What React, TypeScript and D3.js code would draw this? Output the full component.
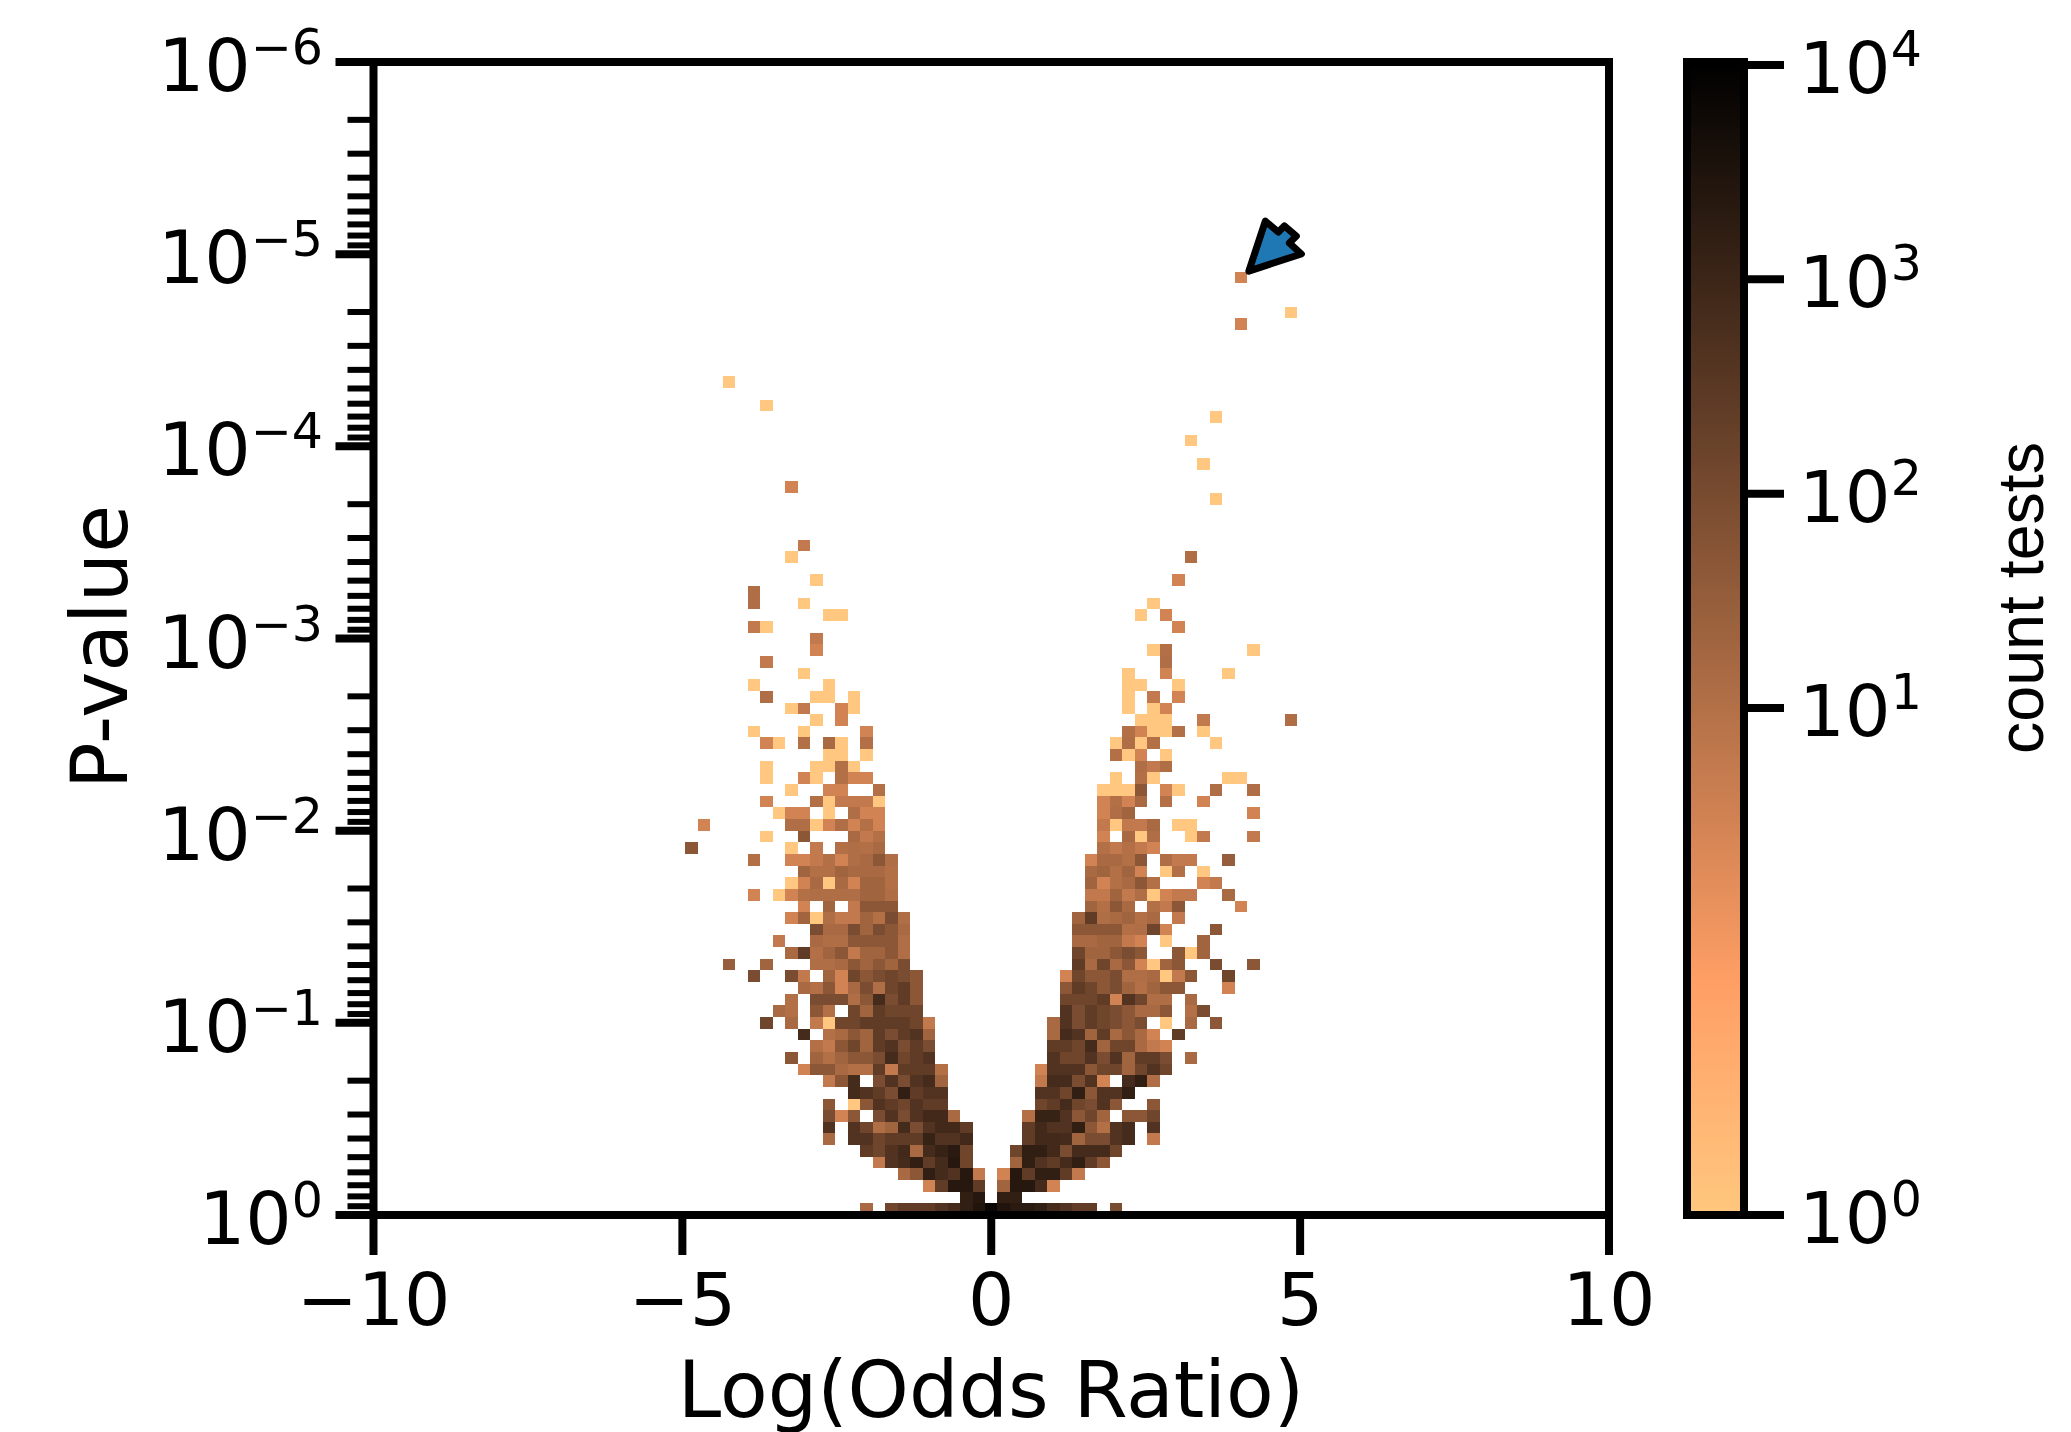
import React from "react";
import * as d3 from "d3";

const xTicks = [-10, -5, 0, 5, 10];
const xTickLabels = ["\u221210", "\u22125", "0", "5", "10"];
const pExponents = [0, -1, -2, -3, -4, -5, -6];
const pExponentLabels = ["0", "\u22121", "\u22122", "\u22123", "\u22124", "\u22125", "\u22126"];
const minorMultipliers = [2, 3, 4, 5, 6, 7, 8, 9];
const colorbarExponents = [0, 1, 2, 3, 4];
const binCount = 99;

// Each entry: [P-value bin from the bottom, first odds-ratio bin, counts...]; 0 means an empty bin.
const leftArmCounts: number[][] = [
  [0,39,15,0,140,250,250,250,430,700,1500,3000,7000],
  [1,47,1500,2400],
  [2,44,8,250,2400,2400,250],
  [3,42,15,46,1500,700,430,2400,9],
  [4,40,9,430,700,1500,250,700,2400,140],
  [5,39,250,140,430,800,15,700,1200,2000,140],
  [6,36,15,0,430,430,140,250,250,250,1200,430,430,800],
  [7,36,430,0,430,140,11,21,700,90,430,800,800,250],
  [8,36,90,8,46,0,90,430,90,430,800,800,15],
  [9,36,46,0,1,46,430,250,140,430,250,250],
  [10,38,700,430,250,90,1500,250,430,430],
  [11,36,9,46,700,0,90,430,90,430,700,21],
  [12,34,8,46,46,15,10,10,250,9,250,250,250,10],
  [13,33,46,0,21,10,21,46,46,90,700,140,250,430],
  [14,35,10,9,46,140,21,250,430,90,250,90],
  [15,34,700,0,10,15,46,21,250,90,250,430,21],
  [16,31,140,0,15,0,9,1,140,140,250,250,250,250,140,9],
  [17,32,15,10,0,46,10,0,140,21,250,140,140,140],
  [18,33,10,0,90,90,90,11,46,700,90,250,46],
  [19,34,15,10,46,8,15,90,11,140,250,46],
  [20,30,90,0,0,90,9,0,21,8,140,46,90,140,90,46],
  [21,28,30,0,0,21,0,0,0,11,11,15,46,21,46,21,90],
  [22,33,15,250,10,21,46,9,21,21,46,11],
  [23,32,9,0,0,15,11,11,46,46,46,46,11],
  [24,35,90,15,15,90,21,90,46,15],
  [25,33,8,21,1,11,9,9,21,10,90,11],
  [26,34,8,0,21,0,9,46,46,46],
  [27,30,8,0,1,8,10,11,11,11,11,21,21,11],
  [28,33,1,8,15,1,15,8,21,21,10],
  [29,34,21,10,10,21,15,15,15,10],
  [30,30,10,0,0,8,8,9,10,8,11,15,46,11],
  [31,25,46],
  [31,33,1,0,9,0,10,11,10,15],
  [32,31,1,0,0,46,0,0,0,15,9,10],
  [33,26,8],
  [33,33,11,11,1,8,11,8,10,8],
  [34,32,1,8,8,0,1,0,11,8,8],
  [35,31,8,0,0,0,10,1,9,9,9,1],
  [36,33,1,0,0,8,8,0,0,10],
  [37,31,1,0,0,8,1,0,10,8,8],
  [38,31,1,0,0,0,1,1,10,1],
  [39,36,1,1,0,1],
  [40,31,8,1,0,10,0,15,1,0,10],
  [41,30,1,0,0,0,1,0,0,0,0,8],
  [42,35,1,0,8],
  [43,33,1,9,0,0,8,1],
  [44,31,11,0,0,0,1,1,0,1],
  [45,30,1,0,0,0,0,0,1],
  [46,34,1],
  [47,31,9],
  [48,35,8],
  [49,35,9],
  [50,30,9,1],
  [51,36,1,1],
  [52,30,11,0,0,0,1],
  [53,30,11],
  [54,35,1],
  [56,33,1],
  [57,34,9],
  [62,33,8],
  [69,31,1],
  [71,28,1],
];

const rightArmCounts: number[][] = [
  [0,50,3000,2000,2000,1500,700,430,250,250,0,90],
  [1,50,1500,1500],
  [2,50,21,2400,2400,700,8],
  [3,50,8,2400,250,1500,1500,250,9],
  [4,51,21,1500,430,250,700,1500,250,46],
  [5,51,140,1500,1500,800,90,700,700,700,140],
  [6,52,250,800,800,700,21,90,90,430,700,0,9],
  [7,52,250,800,430,430,1500,46,10,430,700,0,430],
  [8,52,10,1200,1200,430,46,140,21,0,46,46,140],
  [9,53,140,250,700,140,90,430,46,0,0,46],
  [10,53,430,430,140,1500,46,430,430,1500],
  [11,53,9,700,700,90,430,8,0,700,1500,11],
  [12,53,8,430,430,430,46,140,140,21,140,430,140],
  [13,54,430,140,140,430,90,430,21,250,250,90,0,15],
  [14,54,250,250,140,700,21,140,140,15,9,8],
  [15,54,15,700,430,21,250,15,46,15,8,0,250],
  [16,54,15,430,90,250,140,90,46,90,0,1,0,15,0,46],
  [17,55,430,90,250,140,90,46,15,15,46,0,10,90],
  [18,55,140,140,140,250,8,400,140,11,11,0,15],
  [19,55,46,250,140,46,90,21,10,21,46,46,0,0,0,8],
  [20,55,8,140,46,46,90,11,11,15,1,9,46,0,0,140],
  [21,56,250,15,140,15,46,8,1,21,46,0,0,90,0,0,46],
  [22,56,140,21,21,46,90,46,0,0,46,1,21],
  [23,56,15,15,21,21,9,8,0,1,0,0,21],
  [24,56,46,46,46,46,10,11,140,8,0,0,0,46],
  [25,56,21,250,11,15,21,10,15,0,9],
  [26,57,21,10,46,15,0,10,9,46,0,0,0,0,8],
  [27,57,9,9,21,9,11,1,8,9,9,0,0,15],
  [28,57,21,8,10,15,46,10,0,0,0,8,9],
  [29,57,15,21,10,21,8,0,1,10,0,1],
  [30,57,8,15,15,10,46,0,11,9,9,0,0,30],
  [31,58,10,9,10,9,8],
  [32,58,8,0,15,1,11,0,0,1,9,0,0,0,9],
  [33,58,9,1,9,9,15,0,1,1],
  [34,58,8,11,21,0,0,0,0,0,0,0,0,0,8],
  [35,58,8,10,8,15,0,10,0,0,8],
  [36,58,1,1,1,46,0,8,1,0,0,11,0,0,11],
  [37,59,1,0,10,1,0,0,0,0,0,1,1],
  [38,61,11,9,11],
  [39,59,10,1,8,0,1],
  [40,59,1,11,1,10,0,0,0,0,1],
  [41,60,10,8,1,1,10,0,1],
  [42,61,1,1,1,0,0,9,0,0,0,0,0,0,11],
  [43,60,1,0,1,8],
  [44,60,1,0,9,0,8],
  [45,60,1,1,0,0,1],
  [46,60,1,0,0,8,0,0,0,0,1],
  [47,63,11],
  [48,62,1,10,0,0,0,0,0,0,1],
  [50,64,8],
  [51,61,1,0,8],
  [52,62,1],
  [54,64,8],
  [56,65,11],
  [61,67,1],
  [64,66,1],
  [66,65,1],
  [68,67,1],
  [76,69,8],
  [77,73,1],
  [80,69,8],
];

// Annotation arrow, as [log odds ratio, log10 P-value].
const arrowPoints: [number, number][] = [
  [4.17, -4.912], [4.437, -5.172], [4.648, -5.115], [4.745, -5.147],
  [4.939, -5.094], [4.826, -5.058], [5.02, -5.001],
];

const SANS = "'DejaVu Sans', sans-serif";
const LEFT = 373.5, RIGHT = 1609, BOTTOM = 1215, TOP = 62;
const CB_L = 1687, CB_R = 1744;

const x = d3.scaleLinear().domain([-10, 10]).range([LEFT, RIGHT]);
const y = d3.scaleLog().domain([1, 1e-6]).range([BOTTOM, TOP]);
const xEdge = (i: number) => x(-10 + (i * 20) / binCount);
const yEdge = (j: number) => y(Math.pow(10, (-6 * j) / binCount));

// Symmetric-log normalisation of the colour bar: linear to 10, then log.
const linearPart = d3.scaleLinear().domain([1, 10]).range([0, 0.4397]);
const logPart = d3.scaleLog().domain([10, 10000]).range([0.4397, 0.9974]);
const norm = (v: number) => (v <= 10 ? linearPart(v) : logPart(v));
// matplotlib copper_r
const copperR = (p: number) => {
  const t = 1 - p;
  return d3.rgb(Math.min(1, 1.25 * t) * 255, 0.7812 * t * 255, 0.4975 * t * 255).formatRgb();
};
const cbY = d3.scaleLinear().domain([0, 1]).range([BOTTOM, TOP]);

const cells = [...leftArmCounts, ...rightArmCounts].flatMap(([row, start, ...counts]) =>
  counts.map((c, k) => ({ row, col: start + k, c })).filter((d) => d.c > 0)
);
const arrowLine = d3.line<[number, number]>().x((d) => x(d[0])).y((d) => y(Math.pow(10, d[1]))).curve(d3.curveLinearClosed);
const gradientStops = d3.range(0, 1.0001, 0.02);

export default function App() {
  return (
    <svg width={2071} height={1432} viewBox="0 0 2071 1432"
      style={{ position: "absolute", left: 0, top: 0, display: "block", background: "#fff" }}
      fontFamily={SANS} fill="#000">
      <defs>
        <linearGradient id="cb" x1="0" y1="1" x2="0" y2="0">
          {gradientStops.map((p) => <stop key={p} offset={p} stopColor={copperR(p)} />)}
        </linearGradient>
      </defs>

      <g shapeRendering="crispEdges">
        {cells.map((d, i) => (
          <rect key={i} x={xEdge(d.col)} width={xEdge(d.col + 1) - xEdge(d.col)}
            y={yEdge(d.row + 1)} height={yEdge(d.row) - yEdge(d.row + 1)} fill={copperR(norm(d.c))} />
        ))}
      </g>

      <path d={arrowLine(arrowPoints) || ""} fill="#1f77b4" stroke="#000" strokeWidth={7} strokeLinejoin="round" />

      {/* frame */}
      <rect x={LEFT} y={TOP} width={RIGHT - LEFT} height={BOTTOM - TOP} fill="none" stroke="#000" strokeWidth={8} />

      {/* x axis */}
      {xTicks.map((t, i) => (
        <g key={t}>
          <line x1={x(t)} x2={x(t)} y1={BOTTOM} y2={BOTTOM + 40} stroke="#000" strokeWidth={8} />
          <text x={x(t)} y={1325} fontSize={73} textAnchor="middle">{xTickLabels[i]}</text>
        </g>
      ))}
      <text x={991} y={1417} fontSize={78} textAnchor="middle">Log(Odds Ratio)</text>

      {/* y axis */}
      {pExponents.map((e, i) => (
        <g key={e}>
          <line x1={LEFT - 38} x2={LEFT} y1={y(Math.pow(10, e))} y2={y(Math.pow(10, e))} stroke="#000" strokeWidth={8} />
          <text x={323} y={y(Math.pow(10, e)) + 29} fontSize={73} textAnchor="end">
            10<tspan fontSize={49} dy={-27}>{pExponentLabels[i]}</tspan>
          </text>
          {e < 0 && minorMultipliers.map((m) => (
            <line key={m} x1={LEFT - 26} x2={LEFT} y1={y(m * Math.pow(10, e))} y2={y(m * Math.pow(10, e))} stroke="#000" strokeWidth={6} />
          ))}
        </g>
      ))}
      <text transform="translate(127,647) rotate(-90)" fontSize={78} textAnchor="middle">P-value</text>

      {/* colour bar */}
      <rect x={CB_L} y={TOP} width={CB_R - CB_L} height={BOTTOM - TOP} fill="url(#cb)" stroke="#000" strokeWidth={8} />
      {colorbarExponents.map((e) => {
        const ty = cbY(norm(Math.pow(10, e)));
        return (
          <g key={e}>
            <line x1={CB_R} x2={1784} y1={ty} y2={ty} stroke="#000" strokeWidth={8} />
            <text x={1799} y={ty + 28} fontSize={72}>
              10<tspan fontSize={49} dy={-27}>{e}</tspan>
            </text>
          </g>
        );
      })}
      <text transform="translate(2043,598) rotate(-90)" fontSize={64.5} textAnchor="middle" fontFamily="'Liberation Sans', Arial, sans-serif">count tests</text>
    </svg>
  );
}
